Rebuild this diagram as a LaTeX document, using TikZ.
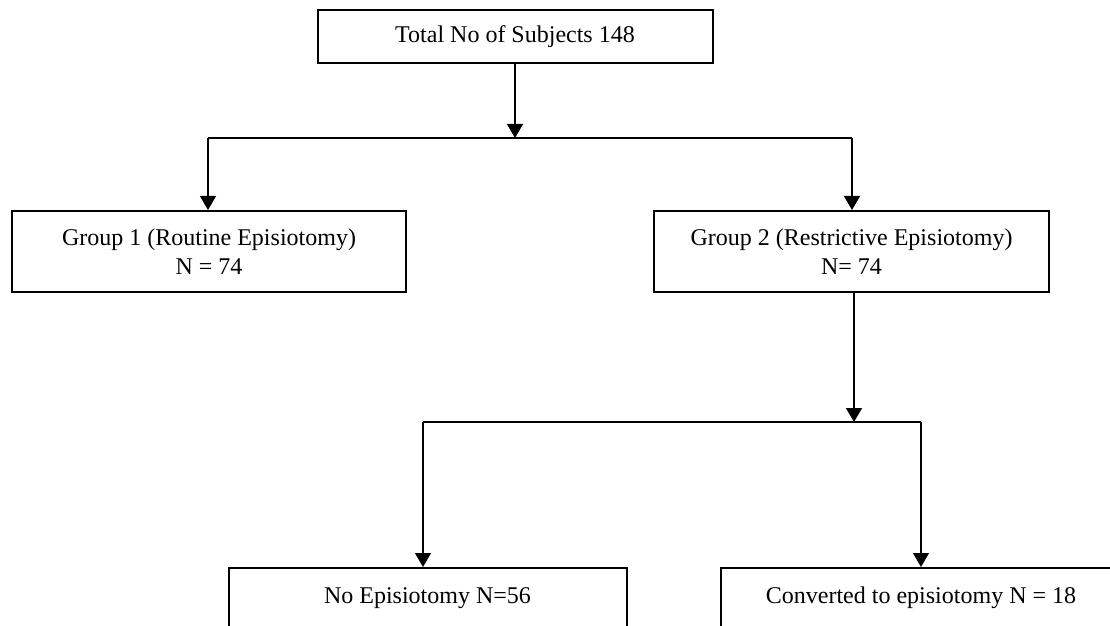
\documentclass[tikz,border=0pt]{standalone}
\usepackage{fontspec}
\setmainfont{Liberation Serif}
\usetikzlibrary{arrows.meta}
\begin{document}
\begin{tikzpicture}[x=0.5pt,y=-0.5pt]
			\tikzset{box/.style = {draw, line width=1pt, inner sep=0pt, align=center, font=\fontsize{12}{14.5}\selectfont}}
			\tikzset{openbox/.style = {box, anchor=north, minimum width=199pt, text height=8pt, text depth=40pt, inner ysep=9.5pt}}
			\tikzset{edge/.style = {line width=0.65pt, -{Triangle[length=7pt,width=8pt]}}}
			\tikzset{link/.style = {line width=0.65pt}}
			\useasboundingbox (0,0) rectangle (1110,626);
			\clip (0,0) rectangle (1110,626);
			% Boxes
			\node[box, minimum width=197.5pt, minimum height=26.5pt] (total) at (515,36.5) {Total No of Subjects 148};
			\node[box, minimum width=197pt, minimum height=40.5pt] (groupA) at (209,251.5) {Group 1 (Routine Episiotomy)\\N = 74};
			\node[box, minimum width=197.5pt, minimum height=40.5pt] (groupB) at (851.5,251.5) {Group 2 (Restrictive Episiotomy)\\N= 74};
			\node[openbox] (noEpi) at (427.5,567) {No Episiotomy N=56};
			\node[openbox, minimum width=200pt] (convEpi) at (921,567) {Converted to episiotomy N = 18};
			% Split into groups
			\coordinate (splitA) at (515,138);
			\coordinate (splitAl) at (208,138);
			\coordinate (splitAr) at (852,138);
			\draw[edge] (total) -- (splitA);
			\draw[link] (splitAl) -- (splitAr);
			\draw[edge] (splitAl) -- (splitAl |- groupA.north);
			\draw[edge] (splitAr) -- (splitAr |- groupB.north);
			% Split of group 2
			\coordinate (splitB) at (854,422);
			\coordinate (splitBl) at (423,422);
			\coordinate (splitBr) at (921,422);
			\draw[edge] (splitB |- groupB.south) -- (splitB);
			\draw[link] (splitBl) -- (splitBr);
			\draw[edge] (splitBl) -- (splitBl |- noEpi.north);
			\draw[edge] (splitBr) -- (convEpi.north);
		\end{tikzpicture}
\end{document}
